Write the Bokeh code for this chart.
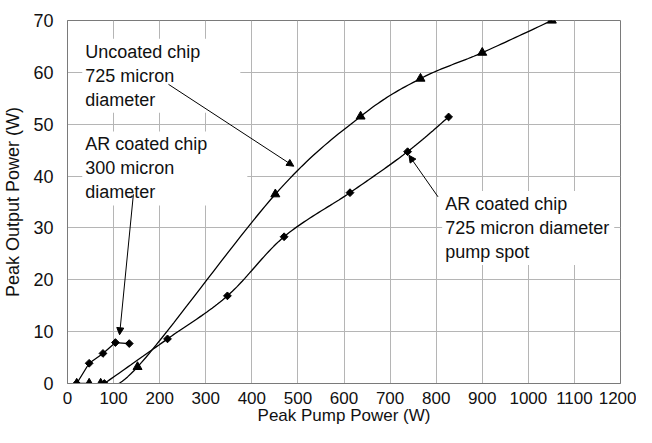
import numpy as np
from bokeh.plotting import figure
from bokeh.models import Label, Arrow, NormalHead, FixedTicker
from bokeh.embed import file_html
from bokeh.resources import INLINE

# ---- data ----
uncoated_x = [20, 47, 72, 152, 451, 636, 766, 900, 1051]
uncoated_y = [0, 0, 0, 3.2, 36.5, 51.5, 58.8, 63.8, 70]

ar725_x = [80, 217, 347, 470, 613, 738, 827]
ar725_y = [0, 8.6, 16.9, 28.3, 36.8, 44.7, 51.4]

ar300_x = [20, 47, 77, 104, 134]
ar300_y = [0, 3.9, 5.8, 7.9, 7.7]

x_ticks = list(range(0, 1201, 100))
y_ticks = list(range(0, 71, 10))

FONT = "Liberation Sans"
W, H = 636, 427
ML, MR, MT, MB = 67, 16, 20, 44
XMAX, YMAX = 1200, 70


def smooth(xs, ys, n=24):
    """Excel-like smoothed line (Catmull-Rom Bezier computed in screen space)."""
    sx = (W - ML - MR) / XMAX
    sy = (H - MT - MB) / YMAX
    P = np.column_stack([np.asarray(xs, float) * sx, np.asarray(ys, float) * sy])
    out = [P[0]]
    m = len(P)
    t = np.linspace(0, 1, n)[1:, None]
    for i in range(m - 1):
        p0 = P[i - 1] if i > 0 else P[i]
        p1, p2 = P[i], P[i + 1]
        p3 = P[i + 2] if i + 2 < m else P[i + 1]
        c1 = p1 + (p2 - p0) / 6.0
        c2 = p2 - (p3 - p1) / 6.0
        seg = ((1 - t) ** 3) * p1 + 3 * ((1 - t) ** 2) * t * c1 + 3 * (1 - t) * t ** 2 * c2 + t ** 3 * p2
        out.extend(seg)
    out = np.array(out)
    return out[:, 0] / sx, out[:, 1] / sy


p = figure(width=W, height=H, x_range=(0, XMAX), y_range=(0, YMAX),
           output_backend="svg", toolbar_location=None,
           min_border_left=ML, min_border_right=MR, min_border_top=MT, min_border_bottom=MB)

p.background_fill_color = "white"
p.border_fill_color = "white"
p.outline_line_color = "#7a7a7a"
p.outline_line_width = 1

for ax in (p.xaxis[0], p.yaxis[0]):
    ax.axis_line_color = "#7a7a7a"
    ax.major_tick_in = 0
    ax.major_tick_out = 0
    ax.minor_tick_in = 0
    ax.minor_tick_out = 0
    ax.major_label_text_font = FONT
    ax.major_label_text_font_size = "18px"
    ax.major_label_text_color = "#111111"
    ax.axis_label_text_font = FONT
    ax.axis_label_text_font_size = "18px"
    ax.axis_label_text_font_style = "normal"
    ax.axis_label_text_color = "#111111"

p.xaxis.major_label_text_font_size = "17px"
p.xaxis.axis_label_text_font_size = "17px"

p.xaxis.ticker = FixedTicker(ticks=x_ticks)
p.yaxis.ticker = FixedTicker(ticks=y_ticks)
p.xaxis.axis_label = "Peak Pump Power (W)"
p.yaxis.axis_label = "Peak Output Power (W)"
p.xaxis.major_label_standoff = 8
p.xaxis.axis_label_standoff = -1
p.yaxis.major_label_standoff = 14
p.yaxis.axis_label_standoff = 7

p.xgrid.grid_line_color = "#b5b5b5"
p.ygrid.grid_line_color = "#b5b5b5"
p.xgrid.grid_line_width = 1
p.ygrid.grid_line_width = 1

# ---- series ----
ux, uy = smooth(uncoated_x, uncoated_y)
p.line(ux, uy, line_color="black", line_width=1.3)
p.scatter(uncoated_x, uncoated_y, marker="triangle", size=9, fill_color="black", line_color="black")

ax_, ay_ = smooth(ar725_x, ar725_y)
p.line(ax_, ay_, line_color="black", line_width=1.3)
p.scatter(ar725_x, ar725_y, marker="square", angle=np.pi / 4, size=5.5,
          fill_color="black", line_color="black")

p.line(ar300_x, ar300_y, line_color="black", line_width=1.3)
p.scatter(ar300_x, ar300_y, marker="square", angle=np.pi / 4, size=5.5,
          fill_color="black", line_color="black")

# ---- annotation boxes ----
def box(x, y, txt, pad):
    lab = Label(x=x, y=y, x_units="data", y_units="data", text=txt,
                text_font=FONT, text_font_size="18px", text_color="#111111",
                text_align="left", text_baseline="top", text_line_height=1.2,
                background_fill_color="white", background_fill_alpha=1.0,
                padding=pad)
    p.add_layout(lab)

box(32, 66.5, "Uncoated chip\n725 micron\ndiameter", (3, 40, 3, 3))
box(32, 48.6, "AR coated chip\n300 micron\ndiameter", (3, 40, 3, 3))
box(813, 37.1, "AR coated chip\n725 micron diameter\npump spot", (3, 5, 3, 3))

def arrow(x0, y0, x1, y1):
    p.add_layout(Arrow(x_start=x0, y_start=y0, x_end=x1, y_end=y1,
                       line_color="black", line_width=1,
                       end=NormalHead(size=7, fill_color="black", line_color="black")))

arrow(219, 57.7, 491, 41.9)
arrow(143, 36.5, 113, 9.4)
arrow(804, 36.0, 741, 44.0)

open("out.html", "w").write(file_html(p, INLINE))
